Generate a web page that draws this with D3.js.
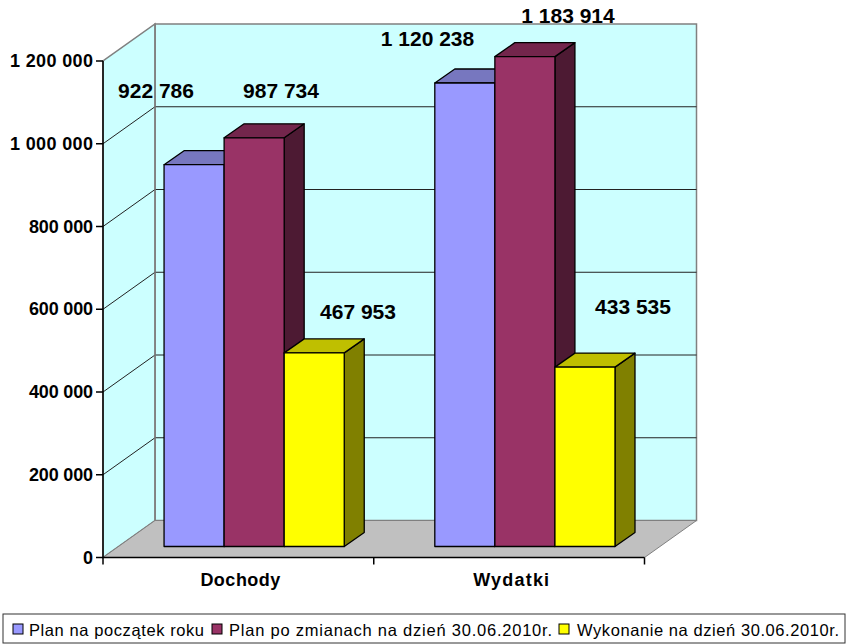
<!DOCTYPE html>
<html><head><meta charset="utf-8">
<script src="https://cdn.jsdelivr.net/npm/d3@7/dist/d3.min.js"></script>
<style>html,body{margin:0;padding:0;background:#fff}svg{display:block}text{font-family:"Liberation Sans",Arial,sans-serif;fill:#000}</style>
</head><body><svg id="c" width="846" height="644"></svg>
<script>
const categories=["Dochody","Wydatki"];
const seriesNames=["Plan na początek roku","Plan po zmianach na dzień 30.06.2010r.","Wykonanie na dzień 30.06.2010r."];
const planStart=[922786,1120238];
const planChanged=[987734,1183914];
const execution=[467953,433535];
const tickValues=[0,200000,400000,600000,800000,1000000,1200000];
const frontColors=["#9999ff","#993366","#ffff00"];
const topColors=["#7777bf","#73264c","#bfbf00"];
const sideColors=["#4c4c80","#4d1a33","#808000"];
const fmt=v=>d3.format(",")(v).replace(/,/g," ");

const svg=d3.select("#c");
const x0=103,x1=644.5,yBase=557.5,yTop=61;
const wallDx=52,wallDy=-37;
const barDx=20,barDy=-14;
const barBaseShift=-11;
const y=d3.scaleLinear().domain([0,1200000]).range([yBase,yTop]);
const xCat=d3.scaleBand().domain(categories).range([x0,x1]);
const xBar=d3.scaleBand().domain([0,1,2]).range([xCat.bandwidth()*0.2255,xCat.bandwidth()*0.891]);
const poly=p=>p.map(a=>a.join(",")).join(" ");
const wallGrey="#808080";

svg.append("polygon").attr("points",poly([[x0+wallDx,y(0)+wallDy],[x1+wallDx,y(0)+wallDy],[x1+wallDx,y(1200000)+wallDy],[x0+wallDx,y(1200000)+wallDy]]))
  .attr("fill","#ccffff").attr("stroke",wallGrey).attr("stroke-width",1.5);
svg.append("polygon").attr("points",poly([[x0,y(0)],[x0+wallDx,y(0)+wallDy],[x0+wallDx,y(1200000)+wallDy],[x0,y(1200000)]]))
  .attr("fill","#ccffff").attr("stroke",wallGrey).attr("stroke-width",1.5);
svg.append("polygon").attr("points",poly([[x0,y(0)],[x1,y(0)],[x1+wallDx,y(0)+wallDy],[x0+wallDx,y(0)+wallDy]]))
  .attr("fill","#c0c0c0").attr("stroke",wallGrey).attr("stroke-width",1);
tickValues.filter(v=>v>0&&v<1200000).forEach(v=>{
  svg.append("path").attr("d",`M${x0},${y(v)}L${x0+wallDx},${y(v)+wallDy}L${x1+wallDx},${y(v)+wallDy}`)
   .attr("fill","none").attr("stroke","#222").attr("stroke-width",1);
});
svg.append("line").attr("x1",x0+wallDx).attr("x2",x0+wallDx).attr("y1",y(0)+wallDy).attr("y2",y(1200000)+wallDy).attr("stroke",wallGrey).attr("stroke-width",1.5);

const series=[planStart,planChanged,execution];
const yb=v=>y(v)+barBaseShift;
const order=[0,1,2];
categories.forEach((c,ci)=>{
  order.forEach(si=>{
    const v=series[si][ci];
    const l=xCat(c)+xBar(si),r=l+xBar.bandwidth(),t=yb(v),b=yb(0);
    const g=svg.append("g").attr("stroke","#000").attr("stroke-width",1.3).attr("stroke-linejoin","round");
    g.append("polygon").attr("points",poly([[r,b],[r+barDx,b+barDy],[r+barDx,t+barDy],[r,t]])).attr("fill",sideColors[si]);
    g.append("polygon").attr("points",poly([[l,t],[r,t],[r+barDx,t+barDy],[l+barDx,t+barDy]])).attr("fill",topColors[si]);
    g.append("rect").attr("x",l).attr("y",t).attr("width",r-l).attr("height",b-t).attr("fill",frontColors[si]);
  });
});

svg.append("line").attr("x1",x0).attr("x2",x1).attr("y1",yBase).attr("y2",yBase).attr("stroke","#000").attr("stroke-width",1.5);
svg.append("line").attr("x1",x0).attr("x2",x0).attr("y1",yBase).attr("y2",yTop).attr("stroke","#000").attr("stroke-width",1.5);
tickValues.forEach(v=>{
  svg.append("line").attr("x1",x0-7).attr("x2",x0).attr("y1",y(v)).attr("y2",y(v)).attr("stroke","#000").attr("stroke-width",1.5);
  svg.append("text").attr("x",x0-10).attr("y",y(v)+6).attr("text-anchor","end").attr("font-size",18).attr("font-weight","bold")
    .attr("textLength",v>=1000000?83:v?64:null).text(fmt(v));
});
[x0,x0+xCat.bandwidth(),x1].forEach(x=>svg.append("line").attr("x1",x).attr("x2",x).attr("y1",yBase).attr("y2",yBase+7).attr("stroke","#000").attr("stroke-width",1.5));
const catLen=[80,76];
const catShift=[2,2];
categories.forEach((c,ci)=>svg.append("text").attr("x",xCat(c)+xCat.bandwidth()/2+catShift[ci]).attr("y",586).attr("text-anchor","middle").attr("font-size",18).attr("font-weight","bold").attr("textLength",catLen[ci]).text(c));

const labelX=[[156,281,358],[427.5,568,633]];
const labelY=[[98,98,319],[46,23,314]];
categories.forEach((c,ci)=>order.forEach(si=>{
  svg.append("text").attr("x",labelX[ci][si]).attr("y",labelY[ci][si]).attr("text-anchor","middle")
    .attr("font-size",21).attr("font-weight","bold").text(fmt(series[si][ci]));
}));

svg.append("rect").attr("x",3).attr("y",614).attr("width",842).attr("height",29).attr("fill","#fff").attr("stroke","#333").attr("stroke-width",1);
const legendSwatch=[13,212,559];
const legendText=[29,229,577];
const legendLen=[175,323,262];
seriesNames.forEach((n,i)=>{
  svg.append("rect").attr("x",legendSwatch[i]).attr("y",624).attr("width",10).attr("height",10).attr("fill",frontColors[i]).attr("stroke","#000").attr("stroke-width",1);
  svg.append("text").attr("x",legendText[i]).attr("y",636).attr("font-size",16.5).attr("textLength",legendLen[i]).text(n);
});
</script></body></html>
